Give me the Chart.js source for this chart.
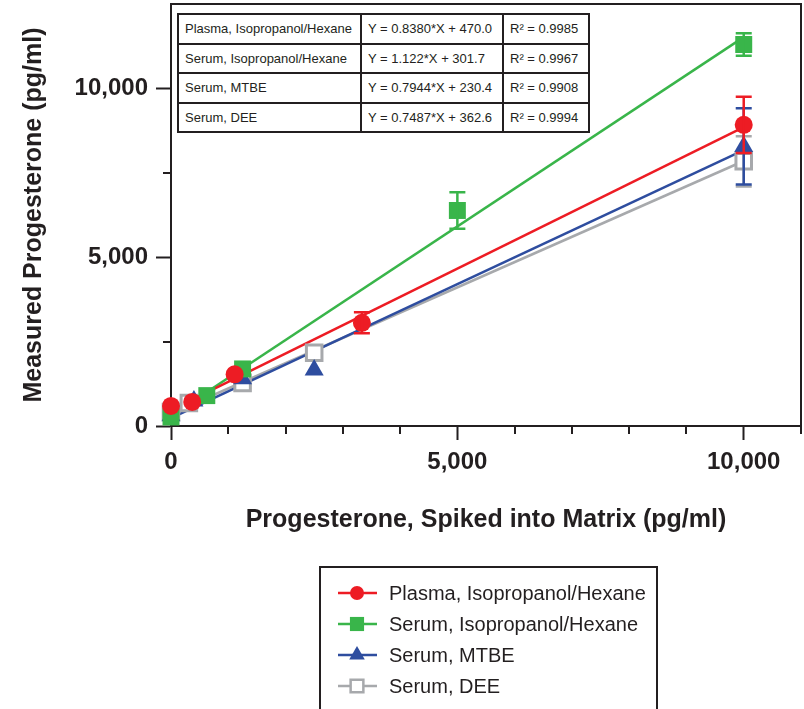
<!DOCTYPE html>
<html>
<head>
<meta charset="utf-8">
<script src="https://cdn.jsdelivr.net/npm/chart.js@4.4.1/dist/chart.umd.min.js"></script>
<style>
  body { margin: 0; background: #fff; }
  #wrap { position: relative; width: 804px; height: 709px; overflow: hidden; }
  /* chart.js keeps half a label height above the plot, so the canvas sits a bit higher/wider */
  #plot { position: absolute; left: 0; top: -10px; width: 815px; height: 719px; }
  #fit-table {
    position: absolute; left: 177px; top: 13px; width: 411px;
    border-collapse: collapse; table-layout: fixed;
    font: 13px "Liberation Sans", Arial, sans-serif; color: #231f20; background: #fff;
  }
  #fit-table td { border: 2px solid #231f20; height: 27.5px; padding: 0 0 0 6px; white-space: nowrap; overflow: hidden; }
</style>
</head>
<body>
<div id="wrap">
  <div id="plot"><canvas id="chart"></canvas></div>
  <table id="fit-table">
    <colgroup><col style="width:183px"><col style="width:142px"><col style="width:86px"></colgroup>
    <tbody id="fit-body"></tbody>
  </table>
</div>
<script>
const seriesNames = [
  "Plasma, Isopropanol/Hexane",
  "Serum, Isopropanol/Hexane",
  "Serum, MTBE",
  "Serum, DEE",
];
const seriesColors = ["#ed1c24", "#39b54a", "#2e4d9f", "#a7a9ac"];
const fitEquations = [
  "Y = 0.8380*X + 470.0",
  "Y = 1.122*X + 301.7",
  "Y = 0.7944*X + 230.4",
  "Y = 0.7487*X + 362.6",
];
const fitR2 = ["R² = 0.9985", "R² = 0.9967", "R² = 0.9908", "R² = 0.9994"];

// measured points (pg/ml)
const plasmaIpaX = [0, 370, 1111, 3333, 10000];
const plasmaIpaY = [594, 713, 1530, 3058, 8920];
const plasmaIpaErr = [0, 0, 0, 310, 830];
const serumIpaX = [0, 625, 1250, 5000, 10000];
const serumIpaY = [267, 900, 1690, 6384, 11300];
const serumIpaErr = [0, 0, 0, 540, 330];
const serumMtbeX = [0, 400, 1250, 2500, 10000];
const serumMtbeY = [300, 740, 1400, 1660, 8280];
const serumMtbeErr = [0, 0, 0, 0, 1130];
const serumDeeX = [0, 312, 1250, 2500, 10000];
const serumDeeY = [415, 680, 1277, 2167, 7840];
const serumDeeErr = [0, 0, 0, 0, 743];

// regression lines, ends read at x = 0 and x = 10000
const fitX = [0, 10000];
const fitPlasmaIpa = [470, 8850];
const fitSerumIpa = [302, 11520];
const fitSerumMtbe = [230, 8170];
const fitSerumDee = [363, 7850];

const xLabelValues = [0, 5000, 10000];
const yLabelValues = [0, 5000, 10000];

const INK = "#231f20";
const FONT = '"Liberation Sans", Arial, Helvetica, sans-serif';
const SHIFT = 10; // canvas offset, see #plot
Chart.defaults.font.family = FONT;
Chart.defaults.color = INK;

document.getElementById("fit-body").innerHTML = seriesNames
  .map((n, i) => `<tr><td>${n}</td><td>${fitEquations[i]}</td><td>${fitR2[i]}</td></tr>`)
  .join("");

function points(xs, ys) {
  return xs.map((x, i) => ({ x: x, y: ys[i] }));
}

const markers = [
  { style: "circle", radius: 9, fill: seriesColors[0], border: 0 },
  { style: "rect", radius: 12, fill: seriesColors[1], border: 0 },
  { style: "triangle", radius: 11, fill: seriesColors[2], border: 0 },
  { style: "rect", radius: 11, fill: "#ffffff", border: 3 },
];
const measured = [
  [plasmaIpaX, plasmaIpaY, plasmaIpaErr],
  [serumIpaX, serumIpaY, serumIpaErr],
  [serumMtbeX, serumMtbeY, serumMtbeErr],
  [serumDeeX, serumDeeY, serumDeeErr],
];
const fits = [fitPlasmaIpa, fitSerumIpa, fitSerumMtbe, fitSerumDee];

const datasets = [];
measured.forEach(([xs, ys, errs], i) => {
  datasets.push({
    label: seriesNames[i],
    data: points(xs, ys),
    errors: errs,
    showLine: false,
    pointStyle: markers[i].style,
    pointRadius: markers[i].radius,
    pointBackgroundColor: markers[i].fill,
    pointBorderColor: seriesColors[i],
    pointBorderWidth: markers[i].border,
    borderColor: seriesColors[i],
    clip: false,
    order: 0,
  });
});
fits.forEach((ys, i) => {
  datasets.push({
    label: seriesNames[i] + " fit",
    data: points(fitX, ys),
    showLine: true,
    borderColor: seriesColors[i],
    borderWidth: 2.5,
    pointRadius: 0,
    clip: false,
    order: 1,
  });
});

function drawMarker(ctx, style, x, y, r) {
  ctx.beginPath();
  if (style === "circle") {
    ctx.arc(x, y, r, 0, Math.PI * 2);
  } else if (style === "rect") {
    const s = r * Math.SQRT1_2;
    ctx.rect(x - s, y - s, 2 * s, 2 * s);
  } else {
    ctx.moveTo(x, y - r);
    ctx.lineTo(x + r * Math.sin(Math.PI / 3), y + r / 2);
    ctx.lineTo(x - r * Math.sin(Math.PI / 3), y + r / 2);
    ctx.closePath();
  }
}

const errorBars = {
  id: "errorBars",
  afterDatasetDraw(chart, args) {
    const ds = chart.data.datasets[args.index];
    if (!ds.errors) return;
    const ctx = chart.ctx;
    const xs = chart.scales.x, ys = chart.scales.y;
    ctx.save();
    ctx.strokeStyle = ds.borderColor;
    ctx.lineWidth = 2.5;
    ds.data.forEach((p, i) => {
      const e = ds.errors[i];
      if (!e) return;
      const px = xs.getPixelForValue(p.x);
      const top = ys.getPixelForValue(p.y + e);
      const bot = ys.getPixelForValue(p.y - e);
      ctx.beginPath();
      ctx.moveTo(px, top); ctx.lineTo(px, bot);
      ctx.moveTo(px - 8, top); ctx.lineTo(px + 8, top);
      ctx.moveTo(px - 8, bot); ctx.lineTo(px + 8, bot);
      ctx.stroke();
    });
    ctx.restore();
  },
};

const frameAndTicks = {
  id: "frameAndTicks",
  beforeDatasetsDraw(chart) {
    const { ctx, chartArea: a, scales } = chart;
    ctx.save();
    ctx.strokeStyle = INK;
    ctx.lineWidth = 2;
    ctx.beginPath();
    ctx.moveTo(a.left, a.top); ctx.lineTo(a.right, a.top); ctx.lineTo(a.right, a.bottom + 1);
    ctx.stroke();
    // minor ticks
    scales.x.ticks.forEach((t) => {
      if (xLabelValues.includes(t.value)) return;
      const px = Math.round(scales.x.getPixelForValue(t.value));
      ctx.beginPath(); ctx.moveTo(px, a.bottom); ctx.lineTo(px, a.bottom + 8); ctx.stroke();
    });
    scales.y.ticks.forEach((t) => {
      if (yLabelValues.includes(t.value) || t.value >= scales.y.max) return;
      const py = Math.round(scales.y.getPixelForValue(t.value));
      ctx.beginPath(); ctx.moveTo(a.left, py); ctx.lineTo(a.left - 8, py); ctx.stroke();
    });
    ctx.restore();
  },
};

const boxLegend = {
  id: "boxLegend",
  afterDraw(chart) {
    const ctx = chart.ctx;
    const L = { left: 320, top: 567 + SHIFT, width: 337, rowY: 593 + SHIFT, rowGap: 31 };
    ctx.save();
    ctx.strokeStyle = INK;
    ctx.lineWidth = 2;
    ctx.strokeRect(L.left, L.top, L.width, 160);
    const legendRadius = [7, 10, 9, 9];
    seriesNames.forEach((name, i) => {
      const y = L.rowY + i * L.rowGap;
      ctx.strokeStyle = seriesColors[i];
      ctx.lineWidth = 2.5;
      ctx.beginPath(); ctx.moveTo(L.left + 18, y); ctx.lineTo(L.left + 57, y); ctx.stroke();
      drawMarker(ctx, markers[i].style, L.left + 37, y, legendRadius[i]);
      ctx.fillStyle = markers[i].fill;
      ctx.fill();
      if (markers[i].border) { ctx.lineWidth = 2.5; ctx.stroke(); }
      ctx.fillStyle = INK;
      ctx.font = "20px " + FONT;
      ctx.textBaseline = "middle";
      ctx.fillText(name, L.left + 69, y + 1);
    });
    ctx.restore();
  },
};

new Chart(document.getElementById("chart"), {
  type: "scatter",
  data: { datasets: datasets },
  plugins: [errorBars, frameAndTicks, boxLegend],
  options: {
    responsive: true,
    maintainAspectRatio: false,
    animation: false,
    events: [],
    layout: { padding: { top: 5, right: 4, bottom: 174, left: 0 } },
    plugins: { legend: { display: false }, tooltip: { enabled: false } },
    scales: {
      x: {
        type: "linear",
        min: 0,
        max: 11000,
        afterFit: (s) => { s.height = 109; },
        border: { color: INK, width: 2 },
        grid: {
          drawOnChartArea: false,
          tickLength: 14,
          tickWidth: 2,
          tickColor: (c) => (xLabelValues.includes(c.tick.value) ? INK : "rgba(0,0,0,0)"),
        },
        ticks: {
          stepSize: 1000,
          padding: 8,
          maxRotation: 0,
          autoSkip: false,
          font: { size: 24, weight: "bold" },
          color: INK,
          callback: (v) => (xLabelValues.includes(v) ? v.toLocaleString("en-US") : ""),
        },
        title: {
          display: true,
          text: "Progesterone, Spiked into Matrix (pg/ml)",
          font: { size: 25, weight: "bold" },
          color: INK,
          padding: { top: 0, bottom: 0 },
        },
      },
      y: {
        type: "linear",
        min: 0,
        max: 12500,
        afterFit: (s) => { s.width = 171; s.paddingTop = 0; s.paddingBottom = 0; },
        border: { color: INK, width: 2 },
        grid: {
          drawOnChartArea: false,
          tickLength: 15,
          tickWidth: 2,
          tickColor: (c) => (yLabelValues.includes(c.tick.value) ? INK : "rgba(0,0,0,0)"),
        },
        ticks: {
          stepSize: 2500,
          padding: 8,
          autoSkip: false,
          font: { size: 24, weight: "bold" },
          color: INK,
          callback: (v) => (yLabelValues.includes(v) ? v.toLocaleString("en-US") : ""),
        },
        title: {
          display: true,
          text: "Measured Progesterone (pg/ml)",
          font: { size: 25, weight: "bold" },
          color: INK,
          padding: { top: 19, bottom: 0 },
        },
      },
    },
  },
});
</script>
</body>
</html>
